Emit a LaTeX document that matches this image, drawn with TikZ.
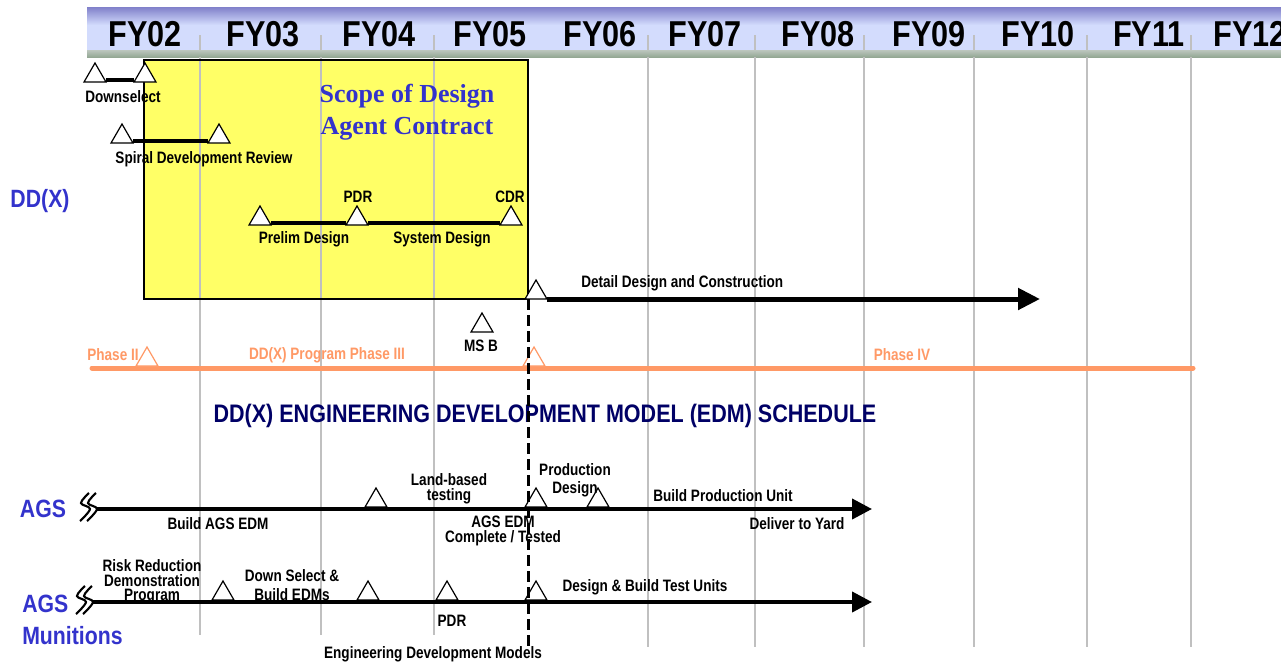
\documentclass[tikz,border=0pt]{standalone}
\usepackage{fontspec}
\newfontfamily\nar{Liberation Sans}[FakeStretch=0.85]
\newfontfamily\narr{Liberation Sans}[FakeStretch=0.82]
\newfontfamily\scopefont{Liberation Serif}
\usetikzlibrary{arrows.meta,shapes.geometric}
\definecolor{hdrtop}{HTML}{8080CA}
\definecolor{hdrlight}{HTML}{D3DCFD}
\definecolor{strtop}{HTML}{BCC6BE}
\definecolor{strbot}{HTML}{94A894}
\definecolor{gridgray}{HTML}{C0C0C0}
\definecolor{yel}{HTML}{FFFF66}
\definecolor{dxblue}{HTML}{3333CC}
\definecolor{navy}{HTML}{000066}
\definecolor{orng}{HTML}{FF9966}
\newcommand\agsbreak[2]{%
 \draw[line width=1.6pt] plot[smooth, tension=0.6] coordinates {({#1-1},{#2-16}) ({#1-9},{#2-6}) (#1,#2) ({#1-10},{#2+12})};
 \draw[line width=1.6pt] plot[smooth, tension=0.6] coordinates {({#1-8},{#2-16}) ({#1-16},{#2-6}) ({#1-7},{#2}) ({#1-17},{#2+12})};}
\begin{document}
\begin{tikzpicture}[x=0.75pt,y=-0.75pt,
 lbl/.style={font={\narr\bfseries\fontsize{12.4}{12.4}\selectfont\lineskiplimit=-20pt}, inner sep=0pt, align=center},
 bluelbl/.style={font={\nar\bfseries\fontsize{18.75}{24}\selectfont\lineskiplimit=-20pt}, text=dxblue, inner sep=0pt},
 titlelbl/.style={font=\nar\bfseries\fontsize{19}{19}\selectfont, text=navy, inner sep=0pt},
 scopelbl/.style={font={\scopefont\bfseries\fontsize{19.5}{24}\selectfont\lineskiplimit=-20pt}, text=dxblue, inner sep=0pt, align=center},
 fy/.style={font=\nar\bfseries\fontsize{27}{27}\selectfont, inner sep=0pt},
 ms/.style={regular polygon, regular polygon sides=3, minimum size=19pt, inner sep=0pt, outer sep=0pt, draw=black, fill=white, line width=0.9pt, anchor=side 2},
 pms/.style={ms, draw=orng},
 bar/.style={line width=3pt},
 gridline/.style={gridgray, line width=1.1pt},
 bigarrow/.style={line width=3.75pt, -{Triangle[length=16.5pt,width=15.75pt]}},
 agsarrow/.style={line width=3pt, -{Triangle[length=15pt,width=15pt]}},
]
\clip (0,0) rectangle (1281,664);
\fill[white] (0,0) rectangle (1281,664);
% header
\shade[top color=hdrtop, bottom color=hdrlight] (87,7) rectangle (1281,25);
\fill[hdrlight] (87,24.5) rectangle (1281,50);
\shade[top color=strtop, bottom color=strbot] (87,50) rectangle (1281,57);
\node[fy] (fy02) at (145,34) {FY02};
\node[fy] (fy03) at (263,34) {FY03};
\node[fy] (fy04) at (379,34) {FY04};
\node[fy] (fy05) at (490,34) {FY05};
\node[fy] (fy06) at (600,34) {FY06};
\node[fy] (fy07) at (705,34) {FY07};
\node[fy] (fy08) at (818,34) {FY08};
\node[fy] (fy09) at (929,34) {FY09};
\node[fy] (fy10) at (1038,34) {FY10};
\node[fy] (fy11) at (1149,34) {FY11};
\node[fy] (fy12) at (1250,34) {FY12};
% scope box
\coordinate (boxtl) at (144,60);
\coordinate (boxbr) at (528,299);
\fill[yel] (boxtl) rectangle (boxbr);
% grid
\foreach \x in {200,321,434} \draw[gridline] (\x,35) -- (\x,50) (\x,57) -- (\x,635);
\foreach \x in {648,755,864,974,1087,1191} \draw[gridline] (\x,35) -- (\x,50) (\x,57) -- (\x,647);
\draw[line width=2pt] (boxtl) rectangle (boxbr);
% phase line
\coordinate (phL) at (92,368);
\coordinate (phR) at (1193,368);
\draw[orng, line width=3.75pt, line cap=round] (phL) -- (phR);
\node[pms] (ph2t) at (147,366) {};
\node[pms] (ph4t) at (534,366) {};
% DD(X) milestones
\node[ms] (ds1) at (95,82) {};
\node[ms] (ds2) at (145,82) {};
\node[ms] (sd1) at (122,143) {};
\node[ms] (sd2) at (219,143) {};
\node[ms] (pd1) at (260,225) {};
\node[ms] (pd2) at (357,225) {};
\node[ms] (pd3) at (511,225) {};
\node[ms] (msb) at (482,332) {};
\draw[bar] ([yshift=1.3pt]ds1.corner 3) -- ([yshift=1.3pt]ds2.corner 2);
\draw[bar] ([yshift=1.3pt]sd1.corner 3) -- ([yshift=1.3pt]sd2.corner 2);
\draw[bar] ([yshift=1.3pt]pd1.corner 3) -- ([yshift=1.3pt]pd2.corner 2);
\draw[bar] ([yshift=1.3pt]pd2.corner 3) -- ([yshift=1.3pt]pd3.corner 2);
\node[ms] (dt) at (536,299) {};
\coordinate (detend) at (1040,299);
\draw[bigarrow] (dt.corner 3) -- (detend);
% AGS rows
\node[ms] (ag1) at (376,507) {};
\node[ms] (ag2) at (536,507) {};
\node[ms] (ag3) at (598,507) {};
\coordinate (agsL) at (97,509);
\coordinate (agsR) at (872,509);
\draw[agsarrow] (agsL) -- (agsR);
\agsbreak{97}{509}
\node[ms] (mu1) at (223,600) {};
\node[ms] (mu2) at (368,600) {};
\node[ms] (mu3) at (447,600) {};
\node[ms] (mu4) at (536,600) {};
\coordinate (munL) at (93,602);
\coordinate (munR) at (872,602);
\draw[agsarrow] (munL) -- (munR);
\agsbreak{93}{602}
% labels
\node[scopelbl] (scope) at (407,112) {Scope of Design\\Agent Contract};
\node[bluelbl] (ddx) at (40,201) {DD(X)};
\node[bluelbl] (ags) at (43,509) {AGS};
\node[bluelbl, anchor=west, align=left] (agsmun) at (22,620) {AGS\\Munitions};
\node[lbl] (dsl) at (123,97) {Downselect};
\node[lbl] (sdr) at (204,159) {Spiral Development Review};
\node[lbl] (pdrl) at (358,197) {PDR};
\node[lbl] (cdrl) at (510,197) {CDR};
\node[lbl] (prelim) at (304,239) {Prelim Design};
\node[lbl] (sysd) at (442,239) {System Design};
\node[lbl, anchor=west] (ddc) at (581,283) {Detail Design and Construction};
\node[lbl] (msbl) at (481,346) {MS B};
\node[lbl, text=orng] (ph2l) at (113,355) {Phase II};
\node[lbl, text=orng] (ph3l) at (327,355) {DD(X) Program Phase III};
\node[lbl, text=orng] (ph4l) at (902,355) {Phase IV};
\node[titlelbl] (ttl) at (545,416) {DD(X) ENGINEERING DEVELOPMENT MODEL (EDM) SCHEDULE};
\node[lbl] (bae) at (218,524) {Build AGS EDM};
\node[lbl] (lbt) at (449,489) {Land-based\\[-1.5pt]testing};
\node[lbl] (aec) at (503,531) {AGS EDM\\[-0.75pt]Complete / Tested};
\node[lbl] (prd) at (575,480) {Production\\[0.75pt]Design};
\node[lbl] (bpu) at (723,496) {Build Production Unit};
\node[lbl] (dty) at (797,524) {Deliver to Yard};
\node[lbl] (rrd) at (152,582) {Risk Reduction\\[-1.5pt]Demonstration\\[-1.5pt]Program};
\node[lbl] (dsb) at (292,585) {Down Select \&\\[2.25pt]Build EDMs};
\node[lbl] (pdr2) at (452,621) {PDR};
\node[lbl] (dbt) at (645,587) {Design \& Build Test Units};
\node[lbl] (edm) at (433,654) {Engineering Development Models};
% dashed milestone line
\coordinate (dashend) at (528,648);
\draw[line width=2.25pt, dash pattern=on 8pt off 4pt] (boxbr) -- (dashend);
\end{tikzpicture}
\end{document}
